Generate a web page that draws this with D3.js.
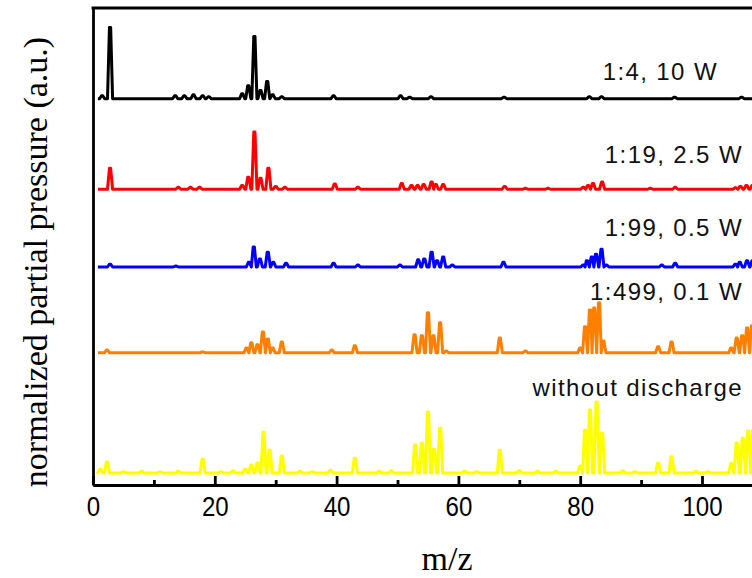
<!DOCTYPE html>
<html>
<head>
<meta charset="utf-8">
<script src="https://cdn.jsdelivr.net/npm/d3@7"></script>
<style>
  body { margin: 0; background: #fff; }
  svg { display: block; }
  .lbl { font-family: "Liberation Sans", Arial, sans-serif; font-size: 24px; letter-spacing: 1.4px; fill: #111; }
  .ttl { font-family: "Liberation Serif", "Times New Roman", serif; font-size: 34px; fill: #000; }
</style>
</head>
<body>
<div id="chart"></div>
<script>
// series names, colours and vertical offsets (a.u.)
const names = ['1:4, 10 W', '1:19, 2.5 W', '1:99, 0.5 W', '1:499, 0.1 W', 'without discharge'];
const colors = ['#000000', '#ff0000', '#0000ff', '#ff8000', '#ffff00'];
const offsets = [81, 62, 45.7, 27.7, 2.5];

// peaks: [m/z, normalized partial pressure]
const black = [[1.5, 0.6], [2.8, 14.9], [13.5, 0.6], [15, 0.6], [16.5, 0.8], [18, 0.6], [19, 0.4],
  [24.5, 1], [25.5, 2.7], [26.5, 13], [27.5, 1.7], [28.6, 3.6], [29.5, 0.8], [31, 0.4], [39.5, 0.6],
  [50.5, 0.6], [52, 0.3], [55.5, 0.4], [67.5, 0.3], [81.5, 0.4], [83.5, 0.4], [95.5, 0.3], [106.5, 0.3]];
const red = [[2.8, 4.4], [14, 0.4], [16, 0.4], [17.5, 0.4], [24.5, 0.8], [25.5, 2.5], [26.5, 12],
  [27.5, 2.3], [28.8, 4.4], [30, 0.6], [31.5, 0.4], [39.7, 1.1], [43.5, 0.4], [50.7, 1.2], [52.3, 0.8],
  [53.3, 0.8], [54.3, 1], [55.6, 1.5], [56.3, 1], [57.5, 1], [67.6, 0.6], [71, 0.2], [74.7, 0.2],
  [80.5, 0.4], [81.3, 0.8], [82.1, 1.2], [83.6, 1.5], [91.5, 0.2], [95.6, 0.4], [105.5, 0.3],
  [106.3, 0.6], [107.3, 0.8], [108.3, 0.8]];
const blue = [[2.8, 0.6], [13.6, 0.2], [25.6, 1], [26.4, 4.2], [27.4, 1.7], [28.7, 3.1], [29.6, 1],
  [31.7, 0.8], [39.5, 0.8], [43.5, 0.4], [50.4, 0.4], [53.4, 1.5], [54.4, 1.7], [55.6, 3.1], [56.5, 1.3],
  [57.5, 2.1], [59, 0.4], [67.4, 1], [80.5, 0.4], [81.1, 1.3], [81.9, 2.1], [82.6, 2.7], [83.5, 3.7],
  [84.3, 0.4], [93.4, 0.4], [95.6, 0.8], [105.5, 0.6], [106.2, 1], [107.4, 1.3], [108.3, 1.3]];
const orange = [[2.3, 0.6], [18, 0.2], [25.2, 1], [26, 2.1], [27, 1.7], [27.9, 4.4], [28.7, 2.9],
  [29.5, 1], [31, 2.3], [39.2, 0.6], [43, 1.5], [52.8, 3.8], [54, 3.6], [55, 8.4], [55.9, 3.6], [57, 6.3],
  [58, 0.4], [66.8, 3.1], [71, 0.4], [80, 1], [80.8, 5.5], [81.6, 9], [82.3, 9.4], [83.1, 10.5],
  [83.8, 2.5], [92.8, 1.3], [95, 2.3], [104.8, 1], [105.7, 3.1], [106.6, 3.6], [107.4, 5.2], [108.2, 5.7]];
const yellow = [[1.2, 0.8], [2.3, 2.3], [5, 0.3], [8, 0.4], [11, 0.3], [14, 0.4], [18, 2.9], [21, 0.3],
  [23, 0.5], [25, 0.8], [26, 1.7], [27, 2.1], [28, 8.6], [29, 4.8], [31, 3.6], [34, 0.4], [36, 0.3],
  [39, 0.6], [43, 3.1], [47, 0.4], [49, 0.5], [52.9, 5.9], [54, 6.3], [55, 12.8], [56, 5], [57, 9.4],
  [61, 0.4], [63, 0.3], [66.8, 4.8], [70, 0.5], [73, 0.4], [76, 0.4], [80, 1.5], [80.8, 9], [81.6, 13.2],
  [82.7, 14.9], [83.6, 8.4], [87, 0.5], [89, 0.3], [92.8, 2.1], [95, 3.4], [99, 0.4], [101, 0.3],
  [104.8, 2], [105.7, 6.3], [106.7, 7.3], [107.6, 8.8], [108.4, 9]];
const series = [black, red, blue, orange, yellow];

const xTicks = [0, 20, 40, 60, 80, 100];
const xMinor = [10, 30, 50, 70, 90, 110];

const width = 752, height = 578;
const margin = { left: 93, top: 8, bottom: 485 };

const svg = d3.select('#chart').append('svg')
  .attr('width', width)
  .attr('height', height);

const x = d3.scaleLinear().domain([0, 110]).range([margin.left, margin.left + 6.09 * 110]);
const y = d3.scaleLinear().domain([0, 100]).range([margin.bottom, margin.top]);

// each peak: steep trapezoid on the trace's baseline
const foot = 0.42, crest = 0.1;
const line = d3.line()
  .x(d => x(d[0]))
  .y(d => y(d[1]));

series.forEach((s, i) => {
  const pts = [[0.8, 0]];
  s.forEach((p, j) => {
    const prev = j > 0 ? s[j - 1][0] : -10;
    const next = j < s.length - 1 ? s[j + 1][0] : 200;
    pts.push([Math.max(p[0] - foot, (p[0] + prev) / 2), 0],
      [p[0] - crest, p[1]], [p[0] + crest, p[1]],
      [Math.min(p[0] + foot, (p[0] + next) / 2), 0]);
  });
  pts.push([110, 0]);
  svg.append('path')
    .datum(pts.map(p => [p[0], p[1] + offsets[i]]))
    .attr('fill', 'none')
    .attr('stroke', colors[i])
    .attr('stroke-width', 3)
    .attr('stroke-linejoin', 'round')
    .attr('d', line);
});

// labels
const labelPos = [[718, 80], [743, 163], [743, 236], [743, 300], [743, 396]];
svg.selectAll('.lbl')
  .data(names)
  .enter().append('text')
  .attr('class', 'lbl')
  .attr('x', (d, i) => labelPos[i][0])
  .attr('y', (d, i) => labelPos[i][1])
  .attr('text-anchor', 'end')
  .text(d => d);

// axes
const gx = svg.append('g')
  .attr('transform', 'translate(0,' + margin.bottom + ')')
  .call(d3.axisBottom(x).tickValues(xTicks).tickSizeInner(-9).tickSizeOuter(0).tickPadding(11));
gx.selectAll('text')
  .attr('font-family', '"Liberation Sans", Arial, sans-serif')
  .attr('font-size', 28)
  .attr('transform', 'scale(0.86,1)')
  .attr('fill', '#000');

svg.append('g')
  .attr('transform', 'translate(0,' + margin.bottom + ')')
  .call(d3.axisBottom(x).tickValues(xMinor).tickSizeInner(-5).tickSizeOuter(0).tickFormat(''));

svg.append('g')
  .attr('transform', 'translate(' + margin.left + ',0)')
  .call(d3.axisLeft(y).tickValues([]).tickSizeOuter(0));

svg.selectAll('.domain, .tick line')
  .attr('stroke', '#000')
  .attr('stroke-width', 2.8);

svg.append('line')
  .attr('x1', margin.left).attr('x2', width + 20)
  .attr('y1', margin.top).attr('y2', margin.top)
  .attr('stroke', '#000')
  .attr('stroke-width', 2.8)
  .attr('stroke-linecap', 'square');

svg.append('text')
  .attr('class', 'ttl')
  .attr('x', 447)
  .attr('y', 570)
  .attr('text-anchor', 'middle')
  .text('m/z');

svg.append('text')
  .attr('class', 'ttl')
  .attr('transform', 'translate(47,262) rotate(-90)')
  .attr('text-anchor', 'middle')
  .text('normalized partial pressure (a.u.)');
</script>
</body>
</html>
